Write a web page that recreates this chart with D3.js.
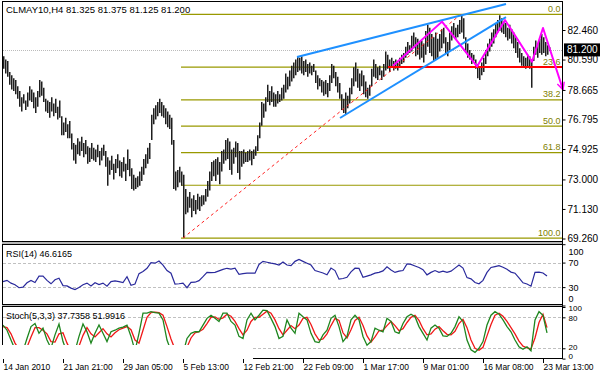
<!DOCTYPE html>
<html>
<head>
<meta charset="utf-8">
<script src="https://cdn.jsdelivr.net/npm/d3@7"></script>
<style>
  body { margin: 0; background: #fff; }
  svg { display: block; font-family: "Liberation Sans", Arial, sans-serif; }
</style>
</head>
<body>
<svg id="chart"></svg>
<script>
let width = 600;
let height = 375;

// H4 bars, CLMAY10 (high / low per bar)
const highs = [
  80.8, 80.6, 80.5, 79.8, 79.6, 79.4, 79.3, 78.9, 78.6, 78.2,
  78.4, 78.0, 78.5, 78.9, 78.7, 78.5, 78.2, 78.6, 79.3, 79.2,
  78.8, 78.1, 78.0, 77.9, 78.2, 77.8, 78.1, 77.6, 78.0, 77.0,
  76.6, 76.9, 76.5, 76.7, 75.9, 75.3, 75.2, 75.6, 75.4, 75.7,
  75.3, 75.5, 75.1, 75.0, 75.3, 75.0, 74.9, 75.2, 74.8, 75.0,
  75.2, 74.8, 74.4, 74.2, 74.5, 74.0, 74.3, 74.6, 74.2, 74.1,
  74.4, 74.0, 74.9, 74.3, 73.7, 73.3, 73.1, 73.2, 73.5, 73.8,
  74.3, 74.6, 75.0, 75.3, 77.1, 77.5, 77.7, 77.9, 78.1, 77.9,
  77.7, 77.5, 77.3, 77.1, 76.9, 75.5, 73.5, 73.6, 73.8, 73.5,
  73.3, 72.4, 71.9, 72.2, 71.8, 72.0, 71.7, 72.1, 71.9, 72.0,
  72.0, 72.4, 72.9, 73.5, 74.1, 74.2, 74.3, 74.4, 74.1, 74.8,
  74.9, 75.5, 75.6, 75.4, 74.9, 75.0, 75.4, 75.3, 74.8, 74.8,
  74.9, 74.7, 74.8, 74.9, 74.8, 74.9, 75.1, 75.8, 76.6, 77.9,
  77.8, 78.2, 79.0, 78.6, 78.9, 78.5, 78.4, 78.6, 78.4, 78.8,
  79.0, 79.7, 79.5, 79.9, 80.2, 80.4, 80.6, 80.8, 80.7, 80.8,
  80.5, 80.6, 80.3, 80.4, 80.2, 80.3, 79.9, 79.6, 79.4, 79.3,
  79.2, 79.3, 79.1, 79.6, 80.3, 80.2, 79.8, 79.5, 79.1, 78.4,
  78.1, 78.5, 78.3, 78.8, 79.4, 80.1, 80.4, 80.0, 79.7, 79.9,
  79.6, 79.2, 78.8, 79.0, 80.0, 80.6, 80.3, 80.1, 80.2, 79.9,
  80.3, 81.1, 80.9, 80.6, 80.7, 80.5, 80.6, 80.4, 80.7, 80.9,
  81.0, 81.4, 81.7, 81.5, 82.1, 82.3, 82.0, 81.9, 81.7, 81.8,
  81.6, 82.4, 82.8, 82.6, 82.2, 82.0, 82.3, 81.9, 82.2, 82.5,
  82.6, 82.0, 81.7, 82.3, 82.7, 82.9, 82.6, 82.8, 83.1, 83.41,
  83.2, 82.0, 81.6, 81.2, 81.0, 80.9, 80.6, 80.3, 80.1, 80.4,
  80.7, 81.2, 81.6, 81.9, 82.3, 82.5, 82.9, 83.1, 83.4, 83.2,
  83.0, 82.9, 82.6, 82.8, 82.5, 82.3, 82.0, 81.7, 81.3, 81.0,
  80.8, 80.7, 80.9, 80.8, 80.6, 81.4, 81.8, 81.6, 81.9, 82.2,
  82.0, 81.7, 81.5, 81.375
];
const lows = [
  80.0, 79.7, 79.5, 79.0, 78.7, 78.6, 78.4, 78.1, 77.6, 77.3,
  77.8, 77.4, 77.6, 78.0, 77.9, 77.5, 77.2, 77.6, 78.2, 78.3,
  77.9, 77.3, 77.2, 76.9, 77.3, 77.0, 77.2, 76.8, 76.9, 75.8,
  75.8, 76.0, 75.6, 75.6, 74.9, 74.2, 74.0, 74.6, 74.5, 74.8,
  74.4, 74.6, 74.0, 74.1, 74.3, 74.2, 74.1, 74.4, 73.9, 74.2,
  74.5, 73.8, 72.6, 73.3, 73.6, 73.0, 73.4, 73.7, 73.2, 73.1,
  73.5, 72.9, 73.6, 73.2, 72.4, 72.3, 72.4, 72.5, 72.6, 72.9,
  73.3, 73.7, 74.0, 74.3, 75.5, 76.5, 76.8, 77.0, 77.2, 77.0,
  76.9, 76.5, 76.3, 76.2, 75.2, 72.4, 72.3, 72.5, 72.8, 72.6,
  69.29, 70.8, 70.9, 71.2, 70.6, 71.0, 70.8, 71.1, 71.0, 71.3,
  71.4, 71.6, 71.9, 72.3, 72.9, 73.2, 72.9, 73.3, 72.7, 73.5,
  74.0, 74.2, 74.3, 73.6, 73.3, 74.0, 74.4, 73.4, 73.0, 73.8,
  74.0, 74.1, 74.1, 74.2, 73.9, 74.3, 74.5, 74.8, 75.6, 76.4,
  76.9, 77.3, 77.9, 77.7, 77.9, 77.6, 77.6, 77.8, 77.9, 78.0,
  78.1, 78.5, 78.7, 78.9, 79.2, 79.4, 79.6, 79.8, 79.9, 79.7,
  79.6, 79.8, 79.5, 79.7, 79.6, 79.8, 79.1, 78.7, 78.9, 78.5,
  78.3, 78.4, 78.2, 78.6, 79.1, 79.4, 78.9, 78.5, 78.1, 77.4,
  77.2, 77.1, 77.5, 77.8, 78.4, 78.9, 79.2, 78.8, 78.6, 78.9,
  78.4, 78.2, 78.1, 78.3, 78.9, 79.5, 79.4, 79.3, 79.6, 79.3,
  79.5, 79.9, 80.0, 79.8, 80.1, 79.9, 80.0, 79.9, 80.1, 80.3,
  80.4, 80.7, 80.9, 81.0, 81.1, 81.3, 80.8, 80.9, 80.6, 80.7,
  80.4, 80.9, 81.4, 81.0, 80.8, 80.5, 80.6, 80.7, 81.1, 81.3,
  81.6, 81.0, 80.8, 81.2, 81.8, 82.1, 81.9, 82.0, 82.2, 82.3,
  81.9, 81.0, 80.7, 80.6, 80.3, 80.5, 80.0, 79.4, 79.3, 79.6,
  79.8, 80.3, 80.8, 81.1, 81.4, 81.6, 82.0, 82.3, 82.4, 82.3,
  82.2, 82.0, 81.8, 81.9, 81.6, 81.3, 81.0, 80.7, 80.4, 80.2,
  80.1, 80.0, 80.1, 80.0, 78.8, 80.5, 80.9, 80.7, 81.0, 80.9,
  81.0, 80.8, 80.9, 81.125
];

// oscillators, one value every 2 bars
const rsiValues = [
  39, 41, 36.5, 34, 29, 30, 37, 41, 37.5, 48,
  48, 41, 35.4, 42, 44.6, 32.5, 32, 28.4, 26, 29.5,
  33.8, 36.5, 32, 37, 34, 36.5, 31.5, 39, 40, 39,
  37.5, 47, 33, 35, 52, 55.5, 60.8, 70, 69, 72.5,
  66, 57, 52.7, 35, 35.5, 36.5, 29, 37.8, 38, 40.5,
  47, 54, 53.5, 54, 56.5, 59, 60.7, 59.5, 60.8, 51,
  52, 52.7, 52.7, 52.7, 67, 72, 70.5, 69, 67.8, 66,
  71, 66, 65, 72, 75, 72, 69, 66, 57, 55,
  53, 50, 61, 57, 43, 44, 46, 55, 60.8, 60.5,
  46, 48, 50, 52.7, 54, 56.5, 63, 58, 54, 56,
  57, 67.8, 67, 64.5, 62, 58.5, 50, 54, 57, 54,
  56, 54, 56, 61, 66, 61, 45.5, 43.5, 37.5, 35.5,
  41, 54, 62, 63.5, 65, 62.5, 59, 54.5, 52.7, 45,
  37, 35, 31.5, 54, 54.5, 53, 48
];
const stochMain = [
  65, 55, 36, 18, 10, 15, 39, 62, 68, 49,
  59, 36, 20, 46, 67, 33, 12, 8, 15, 43,
  67, 52, 30, 49, 65, 49, 33, 52, 55, 59,
  61, 65, 43, 15, 49, 88, 88, 91, 89, 88,
  75, 36, 15, 8, 5, 10, 39, 49, 52, 52,
  65, 78, 84, 78, 72, 88, 88, 72, 65, 43,
  39, 75, 88, 75, 84, 94, 93, 78, 62, 39,
  43, 75, 59, 49, 88, 81, 75, 49, 33, 31,
  46, 55, 78, 84, 62, 33, 43, 75, 84, 75,
  43, 26, 33, 59, 55, 52, 78, 72, 52, 49,
  68, 81, 86, 81, 62, 49, 36, 59, 65, 59,
  44, 43, 49, 62, 81, 72, 36, 17, 12, 20,
  33, 65, 84, 91, 86, 75, 62, 52, 36, 23,
  18, 23, 15, 75, 91, 84, 50
];
const stochSignal = [
  62, 60, 48, 30, 18, 12, 22, 42, 60, 60,
  55, 48, 33, 32, 48, 50, 30, 15, 11, 24,
  45, 60, 48, 42, 50, 58, 48, 42, 50, 56,
  59, 62, 56, 36, 30, 55, 80, 89, 90, 89,
  84, 62, 38, 18, 9, 8, 22, 40, 50, 52,
  57, 68, 80, 81, 76, 79, 86, 82, 72, 58,
  46, 55, 72, 80, 80, 86, 92, 88, 75, 58,
  46, 55, 64, 58, 65, 78, 80, 66, 48, 36,
  38, 48, 64, 78, 74, 50, 40, 56, 74, 80,
  64, 44, 32, 42, 54, 55, 64, 72, 64, 54,
  58, 70, 80, 84, 74, 58, 46, 48, 57, 62,
  54, 47, 46, 53, 68, 76, 60, 36, 20, 16,
  22, 44, 66, 84, 88, 82, 72, 60, 48, 34,
  24, 21, 19, 40, 70, 86, 60
];
const oscStep = 2;

const priceTicks = [69.26, 71.13, 73.0, 74.925, 76.795, 78.665, 80.59, 82.46];
const timeLabels = ["14 Jan 2010", "21 Jan 21:00", "29 Jan 05:00", "5 Feb 13:00", "12 Feb 21:00",
  "22 Feb 09:00", "1 Mar 17:00", "9 Mar 01:00", "16 Mar 08:00", "23 Mar 13:00"];
const timeLabelBars = [0, 30, 60, 90, 120, 150, 180, 210, 240, 270];

const fibLevels = [0, 23.6, 38.2, 50, 61.8, 76.4, 100];
const fibLabels = ["0.0", "23.6", "38.2", "50.0", "61.8", "", "100.0"];
const fibLow = 69.29;
const fibHigh = 83.45;
const lastPrice = 81.2;

// drawn objects: [bar index, price]
const fibTrend = [[90, 69.29], [229, 83.45]];
const wedgeUpper = [[147, 80.75], [251.5, 84.11]];
const wedgeLower = [[168.5, 76.89], [251.5, 83.28]];
const neckline = [[192.5, 80.12], [279.5, 80.12]];
const zigzag = [[195, 80.2], [219.5, 82.99], [237, 80.15], [251, 83.09], [264.5, 80.45], [270, 82.59], [280, 78.68]];

let svg = d3.select("#chart")
  .attr("width", width)
  .attr("height", height);

svg.append("rect").attr("width", width).attr("height", height).attr("fill", "#fff");

let defs = svg.append("defs");
defs.append("marker")
  .attr("id", "arrow")
  .attr("viewBox", "0 0 10 10")
  .attr("refX", 9).attr("refY", 5)
  .attr("markerWidth", 9).attr("markerHeight", 9)
  .attr("markerUnits", "userSpaceOnUse")
  .attr("orient", "auto")
  .append("path")
    .attr("d", "M1,1 L9,5 L1,9")
    .attr("fill", "none")
    .attr("stroke", "#ff00ff")
    .attr("stroke-width", 1.6);

let x = d3.scaleLinear().domain([0, 280]).range([3, 563]);
let y = d3.scaleLinear().domain([69.26, 82.46]).range([238.5, 30]);
let yRsi = d3.scaleLinear().domain([0, 100]).range([305.5, 244.2]);
let yStoch = d3.scaleLinear().domain([0, 100]).range([358.6, 307]);

let axisRight = 562.5;

// panel frames
function panel(top, bottom) {
  svg.append("rect")
    .attr("x", 2.5).attr("y", top)
    .attr("width", axisRight - 2.5).attr("height", bottom - top)
    .attr("fill", "none").attr("stroke", "#000").attr("stroke-width", 1);
}
svg.append("rect").attr("x", 2).attr("y", 242).attr("width", axisRight - 2).attr("height", 2).attr("fill", "#b8b8b8");
svg.append("rect").attr("x", 2).attr("y", 305).attr("width", axisRight - 2).attr("height", 1.5).attr("fill", "#b8b8b8");

// ---- main price window ----
let main = svg.append("g");

// bid line
main.append("line")
  .attr("x1", 3).attr("x2", axisRight)
  .attr("y1", Math.round(y(lastPrice)) + 0.5).attr("y2", Math.round(y(lastPrice)) + 0.5)
  .attr("stroke", "#bbbbbb").attr("stroke-dasharray", "1,1");

// fibonacci levels
let fibY = p => y(fibHigh - (fibHigh - fibLow) * p / 100);
main.append("g").selectAll("line")
  .data(fibLevels)
  .enter()
  .append("line")
    .attr("x1", x(89)).attr("x2", axisRight)
    .attr("y1", d => fibY(d)).attr("y2", d => fibY(d))
    .attr("stroke", "#999900")
    .attr("stroke-width", 1.2);

main.append("g").selectAll("text")
  .data(fibLevels)
  .enter()
  .append("text")
    .attr("x", 560.5)
    .attr("y", d => fibY(d) - 2.5)
    .attr("text-anchor", "end")
    .attr("font-size", 9)
    .attr("fill", "#808000")
    .text((d, i) => fibLabels[i]);

// bars
main.append("g").selectAll("line")
  .data(highs)
  .enter()
  .append("line")
    .attr("x1", (d, i) => x(i) + 0.75)
    .attr("x2", (d, i) => x(i) + 0.75)
    .attr("y1", d => y(d))
    .attr("y2", (d, i) => y(lows[i]))
    .attr("stroke", "#1e1e1e")
    .attr("stroke-width", 1.5);

let seg = d3.line().x(d => x(d[0])).y(d => y(d[1]));

main.append("path")
  .attr("d", seg(fibTrend))
  .attr("fill", "none").attr("stroke", "#ff2020")
  .attr("stroke-width", 1).attr("stroke-dasharray", "3,3");

main.append("path")
  .attr("d", seg(neckline))
  .attr("fill", "none").attr("stroke", "#ff0000").attr("stroke-width", 2);

[wedgeUpper, wedgeLower].forEach(line => {
  main.append("path")
    .attr("d", seg(line))
    .attr("fill", "none").attr("stroke", "#1e90ff").attr("stroke-width", 2);
});

main.append("path")
  .attr("d", seg(zigzag))
  .attr("fill", "none").attr("stroke", "#ff00ff")
  .attr("stroke-width", 2).attr("stroke-linejoin", "round")
  .attr("marker-end", "url(#arrow)");

main.append("text")
  .attr("x", 6).attr("y", 13)
  .attr("font-size", 9.5)
  .attr("fill", "#000")
  .text("CLMAY10,H4  81.325 81.375 81.125 81.200");

panel(1.5, 241.5);

// price axis
svg.append("g")
  .attr("transform", `translate(${axisRight},0)`)
  .call(d3.axisRight(y).tickValues(priceTicks).tickFormat(d3.format(".3f")).tickSize(3).tickPadding(2))
  .call(g => g.select(".domain").remove())
  .call(g => g.selectAll("text").attr("font-size", 10).attr("font-family", "Liberation Sans, Arial, sans-serif").attr("fill", "#000"));

svg.append("rect")
  .attr("x", 564).attr("y", y(lastPrice) - 6.5)
  .attr("width", 36).attr("height", 13)
  .attr("fill", "#000");
svg.append("text")
  .attr("x", 567).attr("y", y(lastPrice) + 3.5)
  .attr("font-size", 10).attr("fill", "#fff")
  .text(d3.format(".3f")(lastPrice));

// ---- RSI window ----
let osc = (scale) => d3.line()
  .x((d, k) => x(k * oscStep))
  .y(d => scale(d));

svg.append("g").selectAll("line")
  .data([70, 30])
  .enter()
  .append("line")
    .attr("x1", 3).attr("x2", axisRight)
    .attr("y1", d => Math.round(yRsi(d)) + 0.5).attr("y2", d => Math.round(yRsi(d)) + 0.5)
    .attr("stroke", "#c0c0c0").attr("stroke-dasharray", "3,2");

svg.append("path")
  .datum(rsiValues)
  .attr("d", osc(yRsi))
  .attr("fill", "none").attr("stroke", "#2a2a9c").attr("stroke-width", 1.2);

svg.append("text")
  .attr("x", 6).attr("y", 257)
  .attr("font-size", 9).attr("fill", "#000")
  .text("RSI(14) 46.6165");

panel(244.5, 304.5);

svg.append("g")
  .attr("transform", `translate(${axisRight},0)`)
  .call(d3.axisRight(yRsi).tickValues([100, 70, 30, 0]).tickSize(3).tickPadding(3))
  .call(g => g.select(".domain").remove())
  .call(g => g.selectAll("text")
    .attr("font-size", 9).attr("font-family", "Liberation Sans, Arial, sans-serif").attr("fill", "#000")
    .attr("dy", d => d === 100 ? "1.1em" : d === 0 ? "-0.4em" : "0.32em"));

// ---- Stochastic window ----
svg.append("g").selectAll("line")
  .data([80, 20])
  .enter()
  .append("line")
    .attr("x1", 3).attr("x2", axisRight)
    .attr("y1", d => Math.round(yStoch(d)) + 0.5).attr("y2", d => Math.round(yStoch(d)) + 0.5)
    .attr("stroke", "#c0c0c0").attr("stroke-dasharray", "3,2");

svg.append("path")
  .datum(stochSignal)
  .attr("d", osc(yStoch))
  .attr("fill", "none").attr("stroke", "#f01818").attr("stroke-width", 1.3);

svg.append("path")
  .datum(stochMain)
  .attr("d", osc(yStoch))
  .attr("fill", "none").attr("stroke", "#1f861f").attr("stroke-width", 1.3);

panel(306.5, 358.5);

// blank patch in the lower left of the stochastic window
svg.append("rect")
  .attr("x", 0).attr("y", 345).attr("width", 253).attr("height", 14)
  .attr("fill", "#fff");

svg.append("text")
  .attr("x", 6).attr("y", 319)
  .attr("font-size", 9).attr("fill", "#000")
  .text("Stoch(5,3,3) 37.7358 51.9916");

// label offsets keep the stacked 100/80 and 20/0 labels apart
let stochDy = { 100: 3.6, 80: 3.1, 20: 0.8, 0: 0 };
svg.append("g")
  .attr("transform", `translate(${axisRight},0)`)
  .call(d3.axisRight(yStoch).tickValues([100, 80, 20, 0]).tickSize(3).tickPadding(3))
  .call(g => g.select(".domain").remove())
  .call(g => g.selectAll("text")
    .attr("font-size", 8).attr("font-family", "Liberation Sans, Arial, sans-serif").attr("fill", "#000")
    .attr("dy", d => stochDy[d] + "px"));

// right axis line
svg.append("line")
  .attr("x1", axisRight).attr("x2", axisRight)
  .attr("y1", 1.5).attr("y2", 359)
  .attr("stroke", "#000");

// time axis
svg.append("g")
  .attr("transform", "translate(0,359)")
  .call(d3.axisBottom(x).tickValues(timeLabelBars).tickFormat((d, i) => timeLabels[i]).tickSize(4).tickPadding(1))
  .call(g => g.select(".domain").remove())
  .call(g => g.selectAll("text")
    .attr("text-anchor", "start")
    .attr("x", 0)
    .attr("font-size", 8.5)
    .attr("font-family", "Liberation Sans, Arial, sans-serif")
    .attr("fill", "#000"));
</script>
</body>
</html>
